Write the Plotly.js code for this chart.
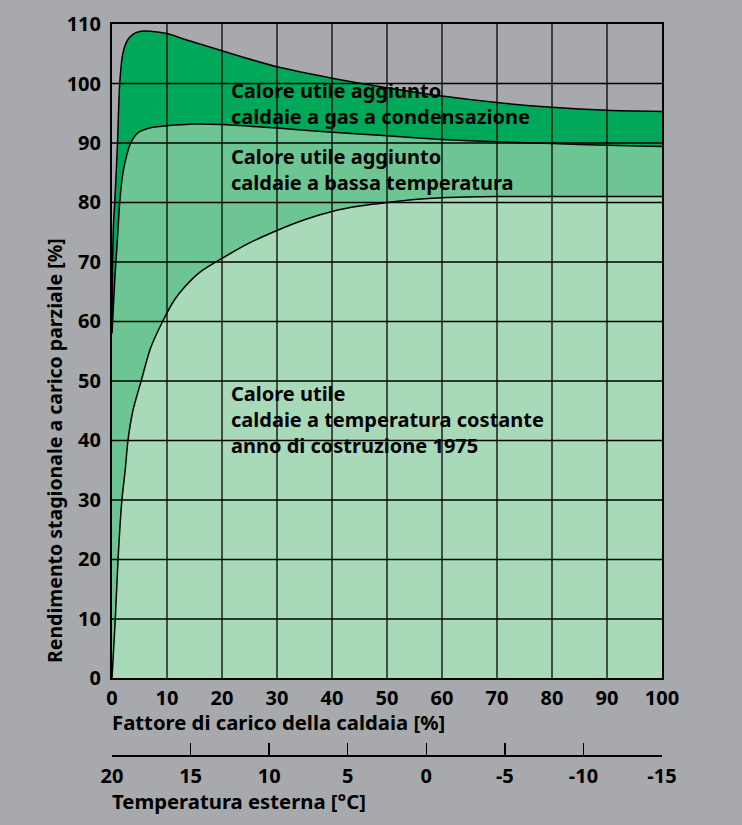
<!DOCTYPE html>
<html>
<head>
<meta charset="utf-8">
<script src="https://cdn.plot.ly/plotly-3.0.1.min.js"></script>
<style>html,body{margin:0;padding:0;background:#a7a9ac;}</style>
</head>
<body>
<div id="chart" style="width:742px;height:825px;"></div>
<script>
// Condensing boilers (top curve)
const condX = [0, 0.1, 0.3, 0.5, 1.0, 1.4, 2.0, 2.9, 4.0, 5.3, 7.0, 10, 13.3, 20, 30, 40, 50, 60, 70, 80, 90, 100];
const condY = [60, 70, 77, 80, 90, 100, 105.2, 107.4, 108.4, 108.8, 108.8, 108.4, 107.4, 105.5, 102.8, 100.9, 99.3, 97.9, 96.8, 96.0, 95.5, 95.3];
// Low temperature boilers (middle curve)
const lowX = [0, 0.5, 1.0, 1.4, 2.0, 2.7, 3.4, 4.7, 7.2, 10, 13.3, 15, 20, 30, 40, 50, 60, 70, 80, 90, 100];
const lowY = [58, 67, 74, 80, 85, 88, 90, 91.7, 92.6, 92.9, 93.1, 93.2, 93.1, 92.5, 91.8, 91.2, 90.6, 90.2, 89.9, 89.6, 89.4];
// Constant temperature boilers, 1975 (bottom curve)
const constX = [0, 0.6, 1.1, 1.8, 2.4, 2.9, 3.8, 5.3, 7, 9.2, 11.4, 13.2, 16, 20, 25, 30, 35, 40, 45, 50, 55, 60, 70, 80, 90, 100];
const constY = [0, 10, 20, 30, 35, 40, 45, 50, 55.5, 60, 63.7, 65.8, 68.3, 70.6, 73.2, 75.3, 77.1, 78.5, 79.4, 80.0, 80.5, 80.8, 81.0, 81.0, 81.0, 81.0];

const loadTicks = [0, 10, 20, 30, 40, 50, 60, 70, 80, 90, 100];
const effTicks = [0, 10, 20, 30, 40, 50, 60, 70, 80, 90, 100, 110];
const tempTicks = [20, 15, 10, 5, 0, -5, -10, -15];
const tempLabels = ["20", "15", "10", "5", "0", "-5", "-10", "-15"];

const labelCond = "Calore utile aggiunto<br>caldaie a gas a condensazione";
const labelLow = "Calore utile aggiunto<br>caldaie a bassa temperatura";
const labelConst = "Calore utile<br>caldaie a temperatura costante<br>anno di costruzione 1975";
const xTitle = "Fattore di carico della caldaia [%]";
const yTitle = "Rendimento stagionale a carico parziale [%]";
const tempTitle = "Temperatura esterna [°C]";

const FONT = "Noto Sans";
const bold = (s) => ({family: FONT, size: s, color: "#000", weight: 700});

const lineStyle = {color: "#000", width: 1.5, shape: "spline", smoothing: 0.7};
const traces = [
  {x: condX, y: condY, mode: "lines", fill: "tozeroy", fillcolor: "#00a85a", line: lineStyle, hoverinfo: "skip", showlegend: false},
  {x: lowX, y: lowY, mode: "lines", fill: "tozeroy", fillcolor: "#6cc592", line: lineStyle, hoverinfo: "skip", showlegend: false},
  {x: constX, y: constY, mode: "lines", fill: "tozeroy", fillcolor: "#a8d9b8", line: lineStyle, hoverinfo: "skip", showlegend: false},
  {x: [tempTicks[0], tempTicks[tempTicks.length - 1]], y: [null, null], xaxis: "x2", yaxis: "y", mode: "lines", hoverinfo: "skip", showlegend: false}
];

const shapes = [];
loadTicks.slice(1, -1).forEach(v => shapes.push({type: "line", xref: "x", yref: "y", x0: v, x1: v, y0: effTicks[0], y1: effTicks[effTicks.length - 1], layer: "above", line: {color: "rgba(0,0,0,0.85)", width: 1.5}}));
effTicks.slice(1, -1).forEach(v => shapes.push({type: "line", xref: "x", yref: "y", x0: loadTicks[0], x1: loadTicks[loadTicks.length - 1], y0: v, y1: v, layer: "above", line: {color: "#000", width: 1.5}}));

const layout = {
  width: 742, height: 825,
  margin: {l: 112, r: 80, t: 24, b: 70},
  paper_bgcolor: "#a7a9ac", plot_bgcolor: "#a7a9ac",
  showlegend: false,
  xaxis: {range: [0, 100], tickvals: loadTicks, ticks: "", showline: true, mirror: true, linecolor: "#000", linewidth: 2,
          showgrid: false, zeroline: false, tickfont: bold(20), ticklabelstandoff: 1, fixedrange: true},
  yaxis: {domain: [0.1047, 1], range: [0, 110], tickvals: effTicks, ticks: "", showline: true, mirror: true, linecolor: "#000", linewidth: 2,
          showgrid: false, zeroline: false, tickfont: bold(20), ticklabelstandoff: 5, fixedrange: true},
  xaxis2: {overlaying: "x", anchor: "free", position: 0, side: "bottom", range: [20, -15], tickvals: tempTicks, ticktext: tempLabels,
           ticks: "inside", ticklen: 12, tickwidth: 1.5, tickcolor: "#000", showline: true, linecolor: "#000", linewidth: 1.5,
           showgrid: false, zeroline: false, tickfont: bold(20), ticklabelstandoff: 2, fixedrange: true},
  shapes: shapes,
  annotations: [
    {text: labelCond, xref: "x", yref: "y", x: 21.3, y: 96.6, xanchor: "left", yanchor: "middle", align: "left", showarrow: false, font: bold(20)},
    {text: labelLow, xref: "x", yref: "y", x: 21.3, y: 85.5, xanchor: "left", yanchor: "middle", align: "left", showarrow: false, font: bold(20)},
    {text: labelConst, xref: "x", yref: "y", x: 21.3, y: 43.5, xanchor: "left", yanchor: "middle", align: "left", showarrow: false, font: bold(20)},
    {text: xTitle, xref: "paper", yref: "paper", x: 0, y: 0.0479, yshift: -2, xanchor: "left", yanchor: "middle", showarrow: false, font: bold(20.3), xshift: -2},
    {text: tempTitle, xref: "paper", yref: "paper", x: 0, y: -0.0629, xanchor: "left", yanchor: "middle", showarrow: false, font: bold(20.3), xshift: -2},
    {text: yTitle, xref: "paper", yref: "paper", x: -0.1055, y: 0.4172, xanchor: "center", yanchor: "middle", textangle: -90, showarrow: false, font: bold(19.5)}
  ]
};

Plotly.newPlot("chart", traces, layout, {displayModeBar: false, staticPlot: true});
</script>
</body>
</html>
